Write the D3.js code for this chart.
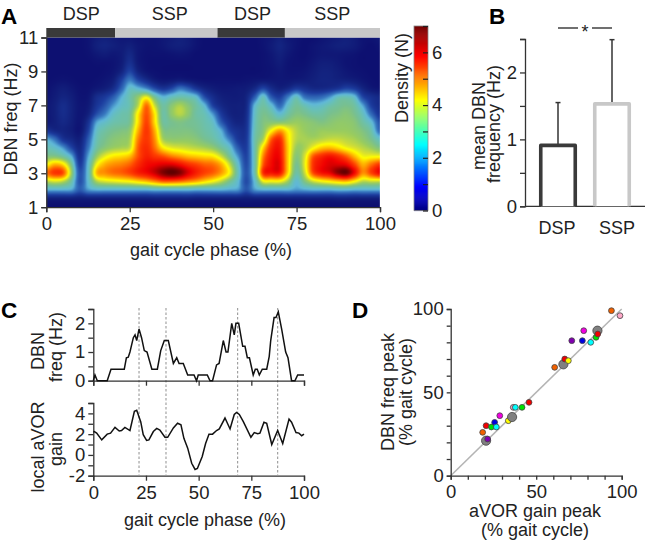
<!DOCTYPE html>
<html><head><meta charset="utf-8">
<script src="https://cdnjs.cloudflare.com/ajax/libs/d3/7.8.5/d3.min.js"></script>
<style>
html,body{margin:0;padding:0;background:#fff}
svg{display:block}
text{font-family:"Liberation Sans",Arial,sans-serif;fill:#222}
.axis path,.axis line{stroke:#333;stroke-width:1.3;fill:none}
.axis text{font-size:18.5px;fill:#222}
</style></head><body>
<svg id="fig" width="646" height="541"></svg>
<script>
// Panel A
const phaseLevels = d3.range(41).map(i => i * 2.5);
const freqLevels = [11,10.5,10,9.5,9,8.5,8,7.5,7,6.5,6,5.5,5,4.5,4,3.5,3,2.5,2,1.5,1];
const density = [
[.1,.1,.1,.1,.1,.2,.4,.5,.4,.3, .3,.2,.2,.2,.3,.4,.5,.4,.2,.1, .1,.1,.1,.1,.1,.1,.2,.3,.5,.3, .2,.1,.1,.2,.3,.4,.5,.4,.2,.2, .3],
[.1,.1,.1,.1,.1,.2,.5,.6,.5,.4, .5,.3,.2,.2,.3,.45,.5,.4,.2,.1, .1,.1,.1,.1,.1,.1,.2,.4,.6,.4, .2,.1,.2,.3,.4,.5,.5,.4,.2,.1, .2],
[.1,.1,.1,.1,.1,.15,.3,.4,.3,.4, .7,.3,.15,.15,.15,.2,.25,.2,.1,.1, .1,.1,.1,.1,.1,.1,.15,.3,.5,.3, .15,.1,.2,.3,.3,.3,.25,.2,.1,.1, .1],
[.1,.1,.1,.1,.1,.1,.15,.15,.2,.4, .9,.35,.15,.1,.1,.1,.1,.1,.1,.1, .1,.1,.1,.1,.1,.1,.15,.25,.4,.2, .15,.15,.3,.45,.45,.35,.2,.15,.1,.1, .1],
[.1,.1,.1,.1,.1,.1,.1,.15,.25,.6, 1.3,.6,.25,.15,.1,.1,.1,.1,.1,.1, .1,.1,.1,.1,.1,.1,.15,.2,.3,.2, .2,.25,.4,.55,.55,.45,.3,.2,.15,.1, .1],
[.1,.15,.2,.15,.1,.1,.15,.25,.45,1.2, 2.0,1.3,.8,.4,.25,.3,.4,.3,.2,.15, .15,.15,.15,.15,.2,.25,.3,.3,.3,.3, .35,.4,.5,.6,.6,.55,.5,.4,.25,.15, .1],
[.15,.3,.45,.3,.15,.15,.3,.45,.8,1.7, 2.7,2.5,2.1,1.4,1.0,1.3,1.9,1.6,1.0,.6, .4,.3,.3,.35,.4,.7,1.3,.8,.5,.7, 1.1,.9,.7,.7,.8,1.0,1.3,1.1,.6,.3, .2],
[.2,.4,.6,.45,.2,.25,.8,1.1,1.6,2.4, 3.0,3.6,4.2,3.2,2.5,2.8,3.0,2.9,2.6,1.4, .8,.5,.4,.4,.6,1.6,2.8,1.6,1.2,2.0, 2.8,1.9,1.7,1.8,2.2,2.8,2.9,2.6,1.3,.9, .7],
[.3,.5,.8,.55,.25,.35,1.0,1.5,2.2,2.7, 3.0,3.9,5.3,4.0,3.1,3.5,3.8,3.5,3.1,2.5, 1.2,.7,.5,.5,.7,2.5,3.1,2.6,1.8,2.7, 3.2,2.9,2.6,2.7,3.0,3.2,3.3,3.1,2.3,1.2, .8],
[.3,.5,.8,.55,.25,.5,1.4,2.0,2.7,3.0, 3.2,4.5,5.5,4.5,3.1,3.6,3.9,3.6,3.1,2.9, 2.2,1.1,.6,.5,.8,2.7,3.3,3.1,2.6,3.1, 3.4,3.3,3.1,3.1,3.3,3.4,3.5,3.3,2.8,1.8, 1.0],
[.35,.5,.7,.5,.25,.9,2.3,2.7,3.0,3.1, 3.3,4.6,5.6,4.6,3.2,3.3,3.4,3.3,3.2,3.0, 2.7,1.6,.9,.6,.9,2.8,3.4,3.5,3.5,3.6, 3.7,3.6,3.5,3.4,3.5,3.6,3.6,3.5,3.1,2.6, 1.5],
[1.0,.7,.6,.45,.25,1.2,2.7,3.1,3.3,3.4, 3.6,4.9,5.7,4.9,3.5,3.4,3.4,3.4,3.3,3.1, 2.9,2.4,1.3,.9,1.0,2.9,3.5,4.4,5.0,4.4, 3.9,3.7,3.6,3.7,3.7,3.7,3.7,3.6,3.4,3.0, 1.8],
[2.4,1.9,1.0,.7,.5,1.6,2.9,3.3,3.5,3.6, 3.8,5.2,5.7,5.1,3.8,3.6,3.6,3.6,3.5,3.3, 3.1,2.7,2.0,1.1,1.1,3.0,3.8,5.4,5.8,4.6, 3.9,3.8,3.8,3.9,4.0,4.0,3.9,3.8,3.6,3.3, 2.8],
[2.9,2.7,2.2,1.3,.7,1.9,3.1,3.5,3.7,3.8, 4.0,5.4,5.8,5.3,4.5,4.2,4.1,4.0,3.9,3.8, 3.6,3.2,2.7,1.6,1.2,3.0,4.6,5.8,6.0,4.7, 3.7,3.8,4.3,4.7,4.8,4.6,4.3,4.1,3.9,3.7, 3.4],
[3.4,3.4,3.1,2.4,.9,2.3,3.6,4.2,4.5,4.6, 4.8,5.5,5.9,5.7,5.5,5.2,5.0,4.8,4.7,4.6, 4.5,4.0,3.2,2.2,1.3,3.0,5.1,6.0,6.1,4.7, 3.5,4.1,5.4,5.8,6.0,5.8,5.4,4.8,4.3,4.3, 4.3],
[4.4,4.9,4.6,3.3,1.2,2.6,4.3,4.9,5.1,5.2, 5.4,5.8,6.1,6.2,6.3,6.3,6.1,5.8,5.6,5.4, 5.3,4.9,4.0,2.7,1.4,3.0,5.4,6.1,6.2,4.7, 3.3,4.2,5.7,6.1,6.3,6.3,6.2,5.6,4.9,5.3, 5.7],
[5.3,5.7,5.5,3.7,1.5,2.7,4.8,5.1,5.3,5.4, 5.6,5.9,6.1,6.4,6.8,7.0,6.8,6.3,5.9,5.6, 5.4,5.0,4.3,2.9,1.5,3.0,5.7,6.0,6.0,4.6, 3.1,4.0,5.5,6.0,6.2,6.7,6.9,6.1,5.1,5.6, 6.1],
[3.9,4.1,3.9,3.1,1.5,2.6,3.8,4.1,4.2,4.3, 4.4,4.6,4.8,5.1,5.4,5.4,5.3,5.1,4.9,4.6, 4.3,3.9,3.3,2.6,1.4,2.6,4.2,4.3,4.3,3.7, 2.6,3.4,4.0,4.3,4.5,4.7,4.8,4.4,3.9,4.0, 4.0],
[2.4,2.4,2.4,2.3,1.6,2.2,2.4,2.4,2.4,2.4, 2.4,2.4,2.4,2.5,2.5,2.5,2.5,2.5,2.4,2.4, 2.4,2.4,2.3,2.2,1.5,2.2,2.4,2.4,2.4,2.4, 2.2,2.3,2.4,2.4,2.4,2.5,2.5,2.4,2.4,2.4, 2.4],
[.5,.5,.5,.5,.45,.5,.5,.5,.5,.5, .5,.5,.5,.55,.55,.55,.55,.55,.5,.5, .5,.5,.5,.5,.45,.5,.5,.5,.5,.5, .5,.5,.5,.5,.5,.55,.55,.5,.5,.5, .5],
[.08,.08,.08,.08,.08,.08,.08,.08,.08,.08, .08,.08,.08,.08,.08,.08,.08,.08,.08,.08, .08,.08,.08,.08,.08,.08,.08,.08,.08,.08, .08,.08,.08,.08,.08,.08,.08,.08,.08,.08, .08]
];
const phaseTicksA = [0,25,50,75,100];
const freqTicks = [1,3,5,7,9,11];
const gaitBandEdges = [0,20.6,51.3,71.5,100];
const gaitBandNames = ["DSP","SSP","DSP","SSP"];
const gaitBandLabelAt = [10.5,37,61.8,85.7];
// image colours (muted) and colour-bar colours (pure jet)
const heatStops = [0,.5,1.2,2,2.5,2.9,3.3,3.7,4.1,4.4,4.9,5.6,6.2,6.8,7];
const heatColors = ["#0c0c6e","#12207c","#1c3c9e","#3878c0","#60b8d8","#68c0b8","#78c090","#98cc60","#d8e030","#ffff00","#ffb000","#ff4000","#f00000","#800000","#600000"];
const barStops = [0,.9,2.5,3.4,4.2,5.85,7];
const barColors = ["#000080","#0000ff","#00ffff","#80ff80","#ffff00","#ff0000","#700000"];
const densityTicks = [0,1,2,3,4,5,6,7];
// Panel B
const barNames = ["DSP","SSP"];
const barMeans = [0.91,1.53];
const barUpper = [1.55,2.49];
const barTicks = [0,0.5,1,1.5,2,2.5];
// Panel C
const dbnPhase = [0,.8,1.9,6.6,8.4,14.7,15.7,16.6,17.4,19,19.8,20.6,21.7,22.9,24.2,25.5,27.8,30.4,32,33.7,35.6,38,39.6,40.7,42.7,44.8,47.8,49,49.8,54.1,55.4,56.6,58.5,59.7,61.7,63,63.9,65.7,66.9,67.7,69,70.9,72,73.1,74.1,75.9,76.9,77.8,78.8,80.2,82.3,83.5,84.2,85.8,86.7,87.8,89.4,91.3,92.4,94.1,95.7,97,100];
const dbnFreq = [0,.2,0,0,.4,.4,.8,.82,1,1.5,1.6,1.4,1.8,1.5,1.05,1,.4,.4,1.05,1.4,1.4,.6,.8,.6,.6,.2,.2,0,.2,.2,0,0,.55,.6,1.4,1,1,2,1.6,2,2,1.2,1.2,.8,.8,.2,.4,.4,.2,.4,.4,.85,1.4,2.2,2.2,2.4,1.8,1,.8,0,0,.2,.2];
const gainPhase = [0,.5,1.6,4,6.6,8.2,10.3,12.3,13.4,15,17.4,19.5,20.6,22.5,23.7,25.3,26.4,28.5,30.1,31.6,34,35.3,38,40,41.6,43,44.8,46.7,48.3,49.4,51.7,53.3,54.9,56.6,58.5,59.8,62.5,64.9,66.9,68,69.3,71.2,74.8,76.4,78,79.1,81,82.3,84.7,87.5,89.9,92.9,94.1,96.2,97.6,98.9,100];
const gainValue = [2.2,2.25,2.1,1.45,2,2.1,2.65,2.3,2.35,2.65,2.35,4.2,4.3,3.2,1.95,1.4,1.45,2.25,2.55,2.4,1.7,1.7,2.6,3.05,2.9,1.6,.65,-.8,-1.4,-1.3,-.15,1.1,2,2,2.35,2.5,3.55,2.5,3.9,4.1,3.9,3.2,1.7,2.15,2.05,2.1,3.15,3.05,1,2.35,1.1,3.45,3.15,2.15,2.1,1.85,2];
const peakPhases = [21.7,34.5,68.5,87.5];
// Panel D
const gainPeak = [18.7,20.7,23.8,25.7,26.7,28.7,20.7,21.6,33.7,35.9,36.6,37.8,41.7,45.8,60.8,65.9,66.7,68.8,70.8,77,77.8,81.9,85.8,85,86,94,99];
const freqPeak = [26,30,29.2,32,29.2,36,21,22,33,35.2,41,41,41,44,65,66.8,70,69,81,81,87,80,87,83,85,99,96];
const peakColor = ["#f06000","#f00000","#00e000","#0000e0","#00ffff","#f000e0","#808080","#8000b0","#ffff00","#808080","#f0a0c0","#00ffff","#00e000","#f00000","#f06000","#808080","#f00000","#ffff00","#8000b0","#0000e0","#f000e0","#00ffff","#808080","#00e000","#f00000","#f06000","#ffa8c8"];
const peakIsMean = [0,0,0,0,0,0,1,0,0,1,0,0,0,0,0,1,0,0,0,0,0,0,1,0,0,0,0];

const svg = d3.select("#fig");
function label(t,x,y,o={}){
  const s = svg.append("text").text(t).attr("font-size",o.size||18)
    .attr("text-anchor",o.anchor||"middle")
    .attr("transform",`translate(${x},${y})`+(o.rot?` rotate(${o.rot})`:""));
  if(o.weight) s.attr("font-weight",o.weight);
  return s;
}
function axis(gen,tx,ty){
  return svg.append("g").attr("class","axis").attr("transform",`translate(${tx},${ty})`).call(gen);
}
function hideMinor(g,show){
  g.selectAll(".tick text").filter(d=>!show.includes(d)).remove();
}

// ===== A =====
const xA = d3.scaleLinear().domain([0,100]).range([46.3,380]);
const yA = d3.scaleLinear().domain([1,11]).range([207.2,37.5]);
const color = d3.scaleLinear().domain(heatStops).range(heatColors).clamp(true);
const barColor = d3.scaleLinear().domain(barStops).range(barColors).clamp(true);
function cr(a,b,c,d,t){
  return .5*((2*b)+(-a+c)*t+(2*a-5*b+4*c-d)*t*t+(-a+3*b-3*c+d)*t*t*t);
}
function sample(p,f){
  const fx = p/2.5, fy = (11-f)/.5;
  const ix = Math.min(39,Math.floor(fx)), iy = Math.min(19,Math.floor(fy));
  const tx = fx-ix, ty = fy-iy;
  const col = j => { const r = density[Math.max(0,Math.min(20,j))];
    const g = i => r[Math.max(0,Math.min(40,i))];
    return cr(g(ix-1),g(ix),g(ix+1),g(ix+2),tx); };
  return cr(col(iy-1),col(iy),col(iy+1),col(iy+2),ty);
}
const cw = Math.round(xA(100)-xA(0)), ch = Math.round(yA(1)-yA(11));
const cv = document.createElement("canvas"); cv.width=cw; cv.height=ch;
const ctx = cv.getContext("2d");
const img = ctx.createImageData(cw,ch);
for(let y=0;y<ch;y++) for(let x=0;x<cw;x++){
  const c = d3.rgb(color(sample(xA.invert(xA(0)+x+.5),yA.invert(yA(11)+y+.5))));
  const k=(y*cw+x)*4; img.data[k]=c.r;img.data[k+1]=c.g;img.data[k+2]=c.b;img.data[k+3]=255;
}
ctx.putImageData(img,0,0);
svg.append("image").attr("x",xA(0)).attr("y",yA(11)).attr("width",xA(100)-xA(0)).attr("height",yA(1)-yA(11))
  .attr("href",cv.toDataURL());
svg.selectAll(".band").data(gaitBandNames).join("rect").attr("class","band")
  .attr("x",(d,i)=>xA(gaitBandEdges[i])).attr("width",(d,i)=>xA(gaitBandEdges[i+1])-xA(gaitBandEdges[i]))
  .attr("y",28).attr("height",9.5).attr("fill",d=>d==="DSP"?"#3a3a3a":"#c8c8c8");
gaitBandNames.forEach((n,i)=>label(n,xA(gaitBandLabelAt[i]),20));
let g = axis(d3.axisBottom(xA).tickValues(phaseTicksA).tickSize(5).tickPadding(5),0,207.2);
g = axis(d3.axisLeft(yA).tickValues(freqTicks).tickSize(5).tickPadding(3),46.3,0);
label("DBN freq (Hz)",16.5,119,{rot:-90});
label("gait cycle phase (%)",211,256);
label("A",1,24,{anchor:"start",size:22.5,weight:"bold"}).style("fill","#000");
// colorbar
const yC = d3.scaleLinear().domain([0,7]).range([210.5,26]);
svg.selectAll(".cb").data(d3.range(0,7,7/180)).join("rect").attr("class","cb")
  .attr("x",414).attr("width",14).attr("y",d=>yC(d+7/180)).attr("height",1.6).attr("fill",d=>barColor(d));
svg.append("rect").attr("x",414).attr("width",14).attr("y",yC(7)).attr("height",yC(0)-yC(7)).attr("fill","none").attr("stroke","#888").attr("stroke-width",.8);
g = axis(d3.axisRight(yC).tickValues(densityTicks).tickSize(0).tickPadding(4).tickFormat(d3.format("d")),428,0);
g.select("path").remove();
hideMinor(g,[0,2,4,6]);
g.selectAll(".tick line").attr("x2",-5).style("stroke-width",1.2).style("stroke","#222");
label("Density (N)",408,78,{rot:-90});

// ===== B =====
const xB = d3.scalePoint().domain(barNames).range([558,612]);
const yB = d3.scaleLinear().domain([0,2.5]).range([206.3,39]);
const barW = 34.5;
g = axis(d3.axisLeft(yB).tickValues(barTicks).tickSize(5).tickPadding(3).tickFormat(d3.format("d")),525,0);
hideMinor(g,[0,1,2]);
svg.append("line").attr("x1",525).attr("x2",645).attr("y1",yB(0)).attr("y2",yB(0)).attr("stroke","#333").attr("stroke-width",1.3);
svg.selectAll(".err").data(barNames).join("line").attr("class","err")
  .attr("x1",d=>xB(d)).attr("x2",d=>xB(d)).attr("y1",(d,i)=>yB(barUpper[i])).attr("y2",(d,i)=>yB(barMeans[i]))
  .attr("stroke","#333").attr("stroke-width",1.5);
svg.selectAll(".cap").data(barNames).join("line").attr("class","cap")
  .attr("x1",d=>xB(d)-2.5).attr("x2",d=>xB(d)+2.5).attr("y1",(d,i)=>yB(barUpper[i])).attr("y2",(d,i)=>yB(barUpper[i]))
  .attr("stroke","#333").attr("stroke-width",1.5);
svg.selectAll(".bar").data(barNames).join("path").attr("class","bar")
  .attr("d",(d,i)=>{const x=xB(d)-barW/2,t=yB(barMeans[i]),b=yB(0);return `M${x},${b}V${t}H${x+barW}V${b}`;})
  .attr("fill","#fff").attr("stroke",d=>d==="DSP"?"#3a3a3a":"#c8c8c8").attr("stroke-width",3.6).attr("stroke-linejoin","round");
barNames.forEach((n,i)=>label(n,[557,617][i],234));
label("mean DBN",485,126,{rot:-90});
label("frequency (Hz)",500,124,{rot:-90});
svg.append("line").attr("x1",xB("DSP")).attr("x2",578).attr("y1",28).attr("y2",28).attr("stroke","#222").attr("stroke-width",1.3);
svg.append("line").attr("x1",592).attr("x2",xB("SSP")).attr("y1",28).attr("y2",28).attr("stroke","#222").attr("stroke-width",1.3);
label("*",585,38,{size:18});
label("B",489,24,{anchor:"start",size:22.5,weight:"bold"}).style("fill","#000");

// ===== C =====
const xC = d3.scaleLinear().domain([0,100]).range([93.3,304]);
const yC1 = d3.scaleLinear().domain([0,2.5]).range([380.7,309]);
const yC2 = d3.scaleLinear().domain([-2,5]).range([475.7,403]);
svg.selectAll(".peak").data(peakPhases).join("line").attr("class","peak")
  .attr("x1",d=>xC(d)).attr("x2",d=>xC(d)).attr("y1",308).attr("y2",475)
  .attr("stroke","#999").attr("stroke-width",1.1).attr("stroke-dasharray","2.5,2");
g = axis(d3.axisBottom(xC).tickValues(phaseTicksA).tickSize(5).tickFormat(""),0,380.7);
g = axis(d3.axisLeft(yC1).tickValues(barTicks).tickSize(5).tickPadding(3).tickFormat(d3.format("d")),93.3,0);
hideMinor(g,[0,1,2]);
g = axis(d3.axisBottom(xC).tickValues(phaseTicksA).tickSize(5).tickPadding(5),0,475.7);
g = axis(d3.axisLeft(yC2).tickValues(d3.range(-2,6)).tickSize(5).tickPadding(3),93.3,0);
hideMinor(g,[-2,0,2,4]);
g.selectAll(".tick text").text(d=>d);
const lineC = (ys)=>d3.line().x(d=>xC(d[0])).y(d=>ys(d[1]));
svg.append("path").datum(d3.zip(dbnPhase,dbnFreq)).attr("d",lineC(yC1)).attr("fill","none").attr("stroke","#111").attr("stroke-width",1.5);
svg.append("path").datum(d3.zip(gainPhase,gainValue)).attr("d",lineC(yC2)).attr("fill","none").attr("stroke","#111").attr("stroke-width",1.5);
label("DBN",44,351,{rot:-90});
label("freq (Hz)",62,347,{rot:-90});
label("local aVOR",44,447,{rot:-90});
label("gain",62,449,{rot:-90});
label("gait cycle phase (%)",205,526);
label("C",1,318,{anchor:"start",size:22.5,weight:"bold"}).style("fill","#000");

// ===== D =====
const xD = d3.scaleLinear().domain([0,100]).range([450.7,621.7]);
const yD = d3.scaleLinear().domain([0,100]).range([475.7,309]);
svg.append("line").attr("x1",xD(0)).attr("y1",yD(0)).attr("x2",xD(100)).attr("y2",yD(100)).attr("stroke","#b4b4b4").attr("stroke-width",1.5);
g = axis(d3.axisBottom(xD).tickValues(d3.range(0,101,10)).tickSize(4).tickPadding(5),0,475.7);
hideMinor(g,[0,50,100]);
g = axis(d3.axisLeft(yD).tickValues(d3.range(0,101,10)).tickSize(4).tickPadding(3),450.7,0);
hideMinor(g,[0,50,100]);
svg.selectAll(".pt").data(gainPeak).join("circle").attr("class","pt")
  .attr("cx",d=>xD(d)).attr("cy",(d,i)=>yD(freqPeak[i]))
  .attr("r",(d,i)=>peakIsMean[i]?4.6:2.9)
  .attr("fill",(d,i)=>peakColor[i]).attr("stroke","#444").attr("stroke-width",.8);
label("DBN freq peak",394,392,{rot:-90});
label("(% gait cycle)",412,392,{rot:-90});
label("aVOR gain peak",535,517);
label("(% gait cycle)",535,536);
label("D",352,318,{anchor:"start",size:22.5,weight:"bold"}).style("fill","#000");
</script>
</body></html>
